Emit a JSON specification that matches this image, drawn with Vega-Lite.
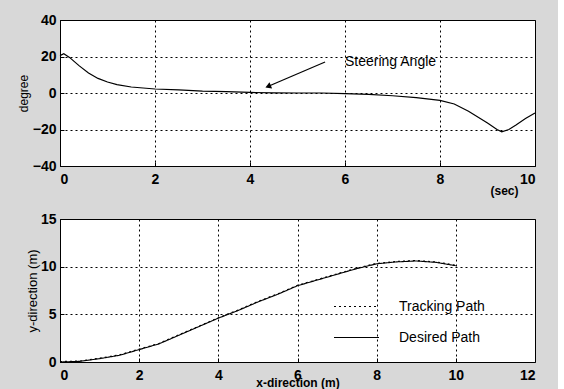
{
  "$schema": "https://vega.github.io/schema/vega-lite/v6.json",
  "padding": {"left": 16, "top": 12, "right": 20, "bottom": 6},
  "background": "#d8d8d8",
  "bounds": "flush",
  "spacing": 53,
  "config": {
    "view": {"fill": "white", "stroke": "black", "strokeWidth": 1},
    "font": "Liberation Sans",
    "axis": {
      "domain": false,
      "grid": true,
      "gridColor": "black",
      "gridDash": [2, 3],
      "gridOpacity": 1,
      "gridWidth": 1,
      "tickColor": "black",
      "tickSize": -4,
      "labelFont": "Liberation Sans",
      "labelFontSize": 14,
      "labelFontWeight": "bold",
      "labelColor": "black",
      "labelPadding": 10,
      "labelOverlap": false,
      "titleFont": "Liberation Sans",
      "titleColor": "black"
    },
    "axisY": {"labelPadding": 8}
  },
  "datasets": {
    "steer": [
      {"t": 0, "deg": 20.5}, {"t": 0.08, "deg": 21.5}, {"t": 0.2, "deg": 19.5},
      {"t": 0.4, "deg": 15}, {"t": 0.6, "deg": 11}, {"t": 0.8, "deg": 8},
      {"t": 1.0, "deg": 6}, {"t": 1.2, "deg": 4.6}, {"t": 1.5, "deg": 3.3},
      {"t": 2.0, "deg": 2.2}, {"t": 2.5, "deg": 1.7}, {"t": 3.0, "deg": 1.0},
      {"t": 3.5, "deg": 0.7}, {"t": 4.0, "deg": 0.3}, {"t": 4.5, "deg": 0.1},
      {"t": 5.0, "deg": 0}, {"t": 5.5, "deg": 0}, {"t": 6.0, "deg": -0.3},
      {"t": 6.5, "deg": -0.8}, {"t": 7.0, "deg": -1.5}, {"t": 7.5, "deg": -2.5},
      {"t": 8.0, "deg": -4}, {"t": 8.3, "deg": -6}, {"t": 8.6, "deg": -10},
      {"t": 9.0, "deg": -16.5}, {"t": 9.2, "deg": -20}, {"t": 9.3, "deg": -21.3},
      {"t": 9.45, "deg": -20}, {"t": 9.6, "deg": -17.5}, {"t": 9.8, "deg": -14},
      {"t": 10.0, "deg": -11}
    ],
    "path": [
      {"path": "Desired Path", "x": 0, "y": 0}, {"path": "Desired Path", "x": 0.5, "y": 0.07},
      {"path": "Desired Path", "x": 1, "y": 0.35}, {"path": "Desired Path", "x": 1.5, "y": 0.7},
      {"path": "Desired Path", "x": 2, "y": 1.3}, {"path": "Desired Path", "x": 2.5, "y": 1.9},
      {"path": "Desired Path", "x": 3, "y": 2.8}, {"path": "Desired Path", "x": 3.5, "y": 3.7},
      {"path": "Desired Path", "x": 4, "y": 4.6}, {"path": "Desired Path", "x": 4.5, "y": 5.4},
      {"path": "Desired Path", "x": 5, "y": 6.3}, {"path": "Desired Path", "x": 5.5, "y": 7.1},
      {"path": "Desired Path", "x": 6, "y": 8.0}, {"path": "Desired Path", "x": 6.5, "y": 8.6},
      {"path": "Desired Path", "x": 7, "y": 9.2}, {"path": "Desired Path", "x": 7.5, "y": 9.8},
      {"path": "Desired Path", "x": 8, "y": 10.3}, {"path": "Desired Path", "x": 8.5, "y": 10.5},
      {"path": "Desired Path", "x": 9, "y": 10.6}, {"path": "Desired Path", "x": 9.5, "y": 10.45},
      {"path": "Desired Path", "x": 10, "y": 10.1},
      {"path": "Tracking Path", "x": 0, "y": 0.05}, {"path": "Tracking Path", "x": 0.5, "y": 0.1},
      {"path": "Tracking Path", "x": 1, "y": 0.4}, {"path": "Tracking Path", "x": 1.5, "y": 0.75},
      {"path": "Tracking Path", "x": 2, "y": 1.35}, {"path": "Tracking Path", "x": 2.5, "y": 1.95},
      {"path": "Tracking Path", "x": 3, "y": 2.85}, {"path": "Tracking Path", "x": 3.5, "y": 3.75},
      {"path": "Tracking Path", "x": 4, "y": 4.65}, {"path": "Tracking Path", "x": 4.5, "y": 5.45},
      {"path": "Tracking Path", "x": 5, "y": 6.35}, {"path": "Tracking Path", "x": 5.5, "y": 7.15},
      {"path": "Tracking Path", "x": 6, "y": 8.05}, {"path": "Tracking Path", "x": 6.5, "y": 8.65},
      {"path": "Tracking Path", "x": 7, "y": 9.25}, {"path": "Tracking Path", "x": 7.5, "y": 9.85},
      {"path": "Tracking Path", "x": 8, "y": 10.35}, {"path": "Tracking Path", "x": 8.5, "y": 10.55},
      {"path": "Tracking Path", "x": 9, "y": 10.65}, {"path": "Tracking Path", "x": 9.5, "y": 10.5},
      {"path": "Tracking Path", "x": 10, "y": 10.15}
    ],
    "label": [{"t": 6.0, "deg": 17, "text": "Steering Angle"}],
    "arrow": [{"t1": 5.58, "d1": 17, "t2": 4.4, "d2": 3.8}]
  },
  "vconcat": [
    {
      "width": 475,
      "height": 146,
      "encoding": {
        "x": {"type": "quantitative",
              "scale": {"domain": [0, 10], "nice": false},
              "axis": {"values": [0, 2, 4, 6, 8, 10], "title": "(sec)",
                       "titleX": 444, "titleY": 28, "titleAlign": "center",
                       "titleBaseline": "alphabetic", "titleFontSize": 12, "titleFontWeight": "bold"}},
        "y": {"type": "quantitative",
              "scale": {"domain": [-40, 40], "nice": false},
              "axis": {"values": [-40, -20, 0, 20, 40], "title": "degree",
                       "titleFontSize": 12, "titleFontWeight": "normal", "titlePadding": 2}}
      },
      "layer": [
        {
          "data": {"name": "steer"},
          "mark": {"type": "line", "color": "black", "strokeWidth": 1.2},
          "encoding": {
            "x": {"field": "t", "type": "quantitative"},
            "y": {"field": "deg", "type": "quantitative"}
          }
        },
        {
          "data": {"name": "label"},
          "mark": {"type": "text", "align": "left", "baseline": "middle", "fontSize": 14, "color": "black", "font": "Liberation Sans"},
          "encoding": {
            "x": {"field": "t", "type": "quantitative"},
            "y": {"field": "deg", "type": "quantitative"},
            "text": {"field": "text"}
          }
        },
        {
          "data": {"name": "arrow"},
          "mark": {"type": "rule", "color": "black", "strokeWidth": 1.2},
          "encoding": {
            "x": {"field": "t1", "type": "quantitative"},
            "y": {"field": "d1", "type": "quantitative"},
            "x2": {"field": "t2"},
            "y2": {"field": "d2"}
          }
        },
        {
          "data": {"name": "arrow"},
          "mark": {"type": "point", "shape": "triangle", "filled": true, "color": "black", "size": 45, "angle": 247, "opacity": 1},
          "encoding": {
            "x": {"field": "t2", "type": "quantitative"},
            "y": {"field": "d2", "type": "quantitative"}
          }
        }
      ]
    },
    {
      "width": 475,
      "height": 143,
      "data": {"name": "path"},
      "mark": {"type": "line", "color": "black", "strokeWidth": 1.1},
      "encoding": {
        "x": {"field": "x", "type": "quantitative",
              "scale": {"domain": [0, 12], "nice": false},
              "axis": {"values": [0, 2, 4, 6, 8, 10, 12], "title": "x-direction  (m)",
                       "titleY": 24, "titleBaseline": "alphabetic", "titleFontSize": 12, "titleFontWeight": "bold"}},
        "y": {"field": "y", "type": "quantitative",
              "scale": {"domain": [0, 15], "nice": false},
              "axis": {"values": [0, 5, 10, 15], "title": "y-direction (m)",
                       "titleFontSize": 13, "titleFontWeight": "normal", "titlePadding": 1}},
        "strokeDash": {"field": "path", "type": "nominal",
                       "scale": {"domain": ["Tracking Path", "Desired Path"], "range": [[2, 3], [1, 0]]},
                       "legend": {"title": null, "orient": "none", "legendX": 273, "legendY": 263, "padding": 0,
                                  "symbolType": "stroke", "symbolSize": 2025, "symbolStrokeColor": "black",
                                  "symbolStrokeWidth": 1.1, "labelFontSize": 14, "labelFont": "Liberation Sans",
                                  "labelColor": "black", "labelOffset": 19, "rowPadding": -23}}
      }
    }
  ]
}
